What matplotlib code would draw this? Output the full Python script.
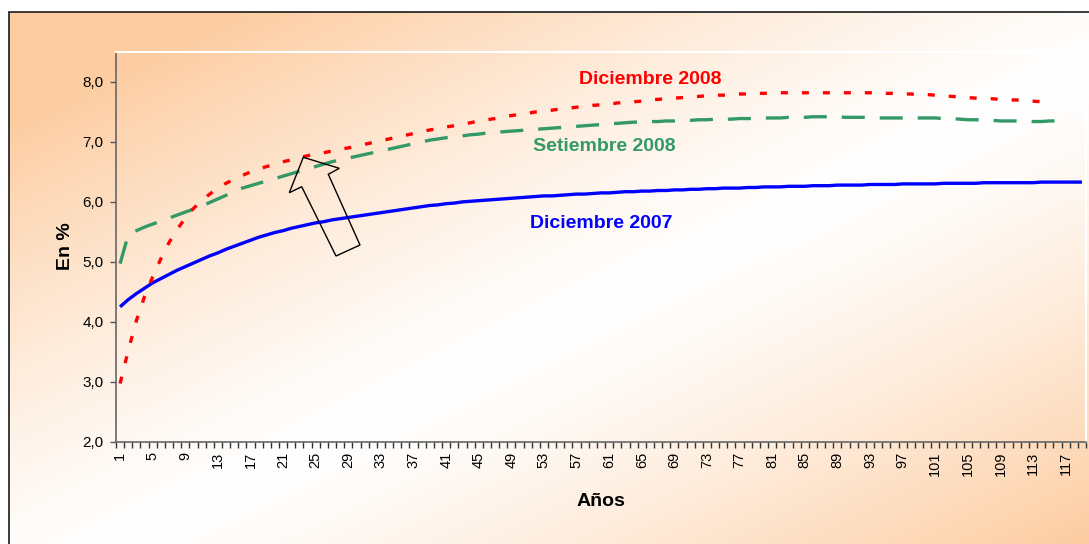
import matplotlib
matplotlib.use('Agg')
import matplotlib.pyplot as plt
import numpy as np
from matplotlib.patches import Polygon, Rectangle
from matplotlib.ticker import FuncFormatter

plt.rcParams['font.family'] = ['Liberation Sans', 'DejaVu Sans']

# datos: tasas por plazo (años)
anos = list(range(1, 120))

dic_2007 = [4.25, 4.37, 4.47, 4.56, 4.65, 4.72, 4.79, 4.86, 4.92, 4.98,
            5.04, 5.10, 5.15, 5.21, 5.26, 5.31, 5.36, 5.41, 5.45, 5.49,
            5.52, 5.56, 5.59, 5.62, 5.65, 5.67, 5.70, 5.72, 5.74, 5.76,
            5.78, 5.80, 5.82, 5.84, 5.86, 5.88, 5.90, 5.92, 5.94, 5.95,
            5.97, 5.98, 6.00, 6.01, 6.02, 6.03, 6.04, 6.05, 6.06, 6.07,
            6.08, 6.09, 6.10, 6.10, 6.11, 6.12, 6.13, 6.13, 6.14, 6.15,
            6.15, 6.16, 6.17, 6.17, 6.18, 6.18, 6.19, 6.19, 6.20, 6.20,
            6.21, 6.21, 6.22, 6.22, 6.23, 6.23, 6.23, 6.24, 6.24, 6.25,
            6.25, 6.25, 6.26, 6.26, 6.26, 6.27, 6.27, 6.27, 6.28, 6.28,
            6.28, 6.28, 6.29, 6.29, 6.29, 6.29, 6.30, 6.30, 6.30, 6.30,
            6.30, 6.31, 6.31, 6.31, 6.31, 6.31, 6.32, 6.32, 6.32, 6.32,
            6.32, 6.32, 6.32, 6.33, 6.33, 6.33, 6.33, 6.33, 6.33]

set_2008 = [4.97, 5.45, 5.52, 5.58, 5.63, 5.68, 5.73, 5.78, 5.83, 5.88,
            5.93, 5.99, 6.05, 6.11, 6.17, 6.23, 6.27, 6.31, 6.35, 6.39,
            6.43, 6.47, 6.51, 6.55, 6.59, 6.63, 6.67, 6.70, 6.73, 6.76,
            6.79, 6.82, 6.85, 6.88, 6.91, 6.94, 6.97, 7.00, 7.03, 7.05,
            7.07, 7.09, 7.10, 7.12, 7.13, 7.15, 7.16, 7.17, 7.18, 7.19,
            7.20, 7.21, 7.22, 7.23, 7.24, 7.25, 7.26, 7.27, 7.28, 7.29,
            7.30, 7.31, 7.32, 7.33, 7.33, 7.34, 7.34, 7.35, 7.35, 7.36,
            7.36, 7.37, 7.37, 7.38, 7.38, 7.38, 7.39, 7.39, 7.39, 7.40,
            7.40, 7.40, 7.41, 7.41, 7.41, 7.42, 7.42, 7.42, 7.42, 7.41,
            7.41, 7.41, 7.41, 7.40, 7.40, 7.40, 7.40, 7.40, 7.40, 7.40,
            7.40, 7.39, 7.39, 7.38, 7.37, 7.37, 7.36, 7.36, 7.35, 7.35,
            7.35, 7.35, 7.34, 7.34, 7.35, 7.35]

dic_2008 = [2.97, 3.52, 4.02, 4.42, 4.75, 5.05, 5.32, 5.54, 5.73, 5.89,
            6.02, 6.13, 6.23, 6.31, 6.38, 6.44, 6.50, 6.55, 6.59, 6.63,
            6.67, 6.70, 6.74, 6.77, 6.80, 6.82, 6.85, 6.88, 6.90, 6.93,
            6.96, 6.99, 7.02, 7.05, 7.08, 7.11, 7.14, 7.17, 7.20, 7.22,
            7.25, 7.27, 7.30, 7.32, 7.35, 7.37, 7.39, 7.42, 7.44, 7.46,
            7.48, 7.50, 7.51, 7.53, 7.55, 7.56, 7.58, 7.59, 7.61, 7.62,
            7.63, 7.65, 7.66, 7.67, 7.68, 7.70, 7.71, 7.72, 7.73, 7.74,
            7.75, 7.76, 7.77, 7.78, 7.78, 7.79, 7.80, 7.80, 7.81, 7.81,
            7.82, 7.82, 7.82, 7.82, 7.82, 7.82, 7.82, 7.82, 7.82, 7.82,
            7.82, 7.82, 7.82, 7.82, 7.81, 7.81, 7.80, 7.80, 7.79, 7.79,
            7.78, 7.77, 7.76, 7.75, 7.74, 7.73, 7.72, 7.72, 7.71, 7.70,
            7.70, 7.69, 7.68, 7.67, 7.66]

etiquetas_x = anos[::4]
ticks_y = [2, 3, 4, 5, 6, 7, 8]

W, H = 1089, 544
fig = plt.figure(figsize=(W / 100, H / 100), dpi=100)

# fondo degradado naranja - blanco - naranja en diagonal
xx, yy = np.meshgrid(np.arange(W), np.arange(H))
u = (xx - 9) / (W - 9)
v = (yy - 12) / (H - 12)
f = np.clip(np.abs(u + v - 1.1) / 0.9, 0, 1) ** 1.3
naranja = np.array([253, 204, 160]) / 255
img = 1 - f[..., None] * (1 - naranja)
img[(xx < 9) | (yy < 12)] = 1
bg = fig.add_axes([0, 0, 1, 1], zorder=0)
bg.imshow(img, aspect='auto', interpolation='bilinear')
bg.axis('off')

# marco exterior
fig.add_artist(Rectangle((9 / W, -0.05), 1.1, 1 - 12 / H + 0.05,
                         transform=fig.transFigure, fill=False,
                         ec='#1a1a1a', lw=1.2, zorder=1))

ax = fig.add_axes([116 / W, 1 - 441.7 / H, 970 / W, (441.7 - 52) / H], zorder=2)
ax.set_facecolor('none')

ax.plot(anos[:len(dic_2007)], dic_2007, color='#0000FF', lw=2.4,
        solid_capstyle='butt')
ax.plot(anos[:len(set_2008)], set_2008, color='#339966', lw=2.4,
        linestyle=(0, (6.9, 4.5)), dash_capstyle='butt')
ax.plot(anos[:len(dic_2008)], dic_2008, color='#FF0000', lw=2.4,
        linestyle=(0, (2.1, 4.2)), dash_capstyle='butt')

ax.set_xlim(0.5, 119.5)
ax.set_ylim(2, 8.5)

ax.set_xticks(etiquetas_x)
ax.set_xticklabels([str(a) for a in etiquetas_x], rotation=90, fontsize=10.5)
ax.set_xticks(np.arange(0.5, 120, 1), minor=True)
ax.tick_params(axis='x', which='major', length=0, pad=7)
ax.tick_params(axis='x', which='minor', length=4, width=1, color='#333333')

ax.set_yticks(ticks_y)
ax.yaxis.set_major_formatter(FuncFormatter(lambda val, _: f"{val:.1f}".replace('.', ',')))
ax.tick_params(axis='y', length=4, width=1, color='#555555', labelsize=11, pad=5)

for lado in ['left', 'bottom']:
    ax.spines[lado].set_color('#666666')
    ax.spines[lado].set_linewidth(1.2)
for lado in ['top', 'right']:
    ax.spines[lado].set_color('white')
    ax.spines[lado].set_linewidth(1.5)

ax.text(66.0, 7.96, 'Diciembre 2008', color='#FF0000', fontsize=14,
        fontweight='bold', ha='center', va='baseline')
ax.text(60.4, 6.85, 'Setiembre 2008', color='#339966', fontsize=14,
        fontweight='bold', ha='center', va='baseline')
ax.text(60.0, 5.56, 'Diciembre 2007', color='#0000FF', fontsize=14,
        fontweight='bold', ha='center', va='baseline')

fig.text(601 / W, 1 - 506 / H, 'Años', ha='center', va='baseline',
         fontsize=14, fontweight='bold')
fig.text(65 / W, 1 - 246 / H, 'En %', ha='center', va='center', rotation=90,
         fontsize=14, fontweight='bold')

# flecha hueca
flecha = [(303.3, 157.3), (339.3, 168.3), (328.3, 174.3), (360, 245),
          (336, 256), (301.7, 186.7), (289.3, 192.7)]
fig.add_artist(Polygon([(x / W, 1 - y / H) for x, y in flecha], closed=True,
                       fill=False, ec='black', lw=1.0,
                       transform=fig.transFigure, zorder=3))

fig.savefig('out.png', dpi=100)
